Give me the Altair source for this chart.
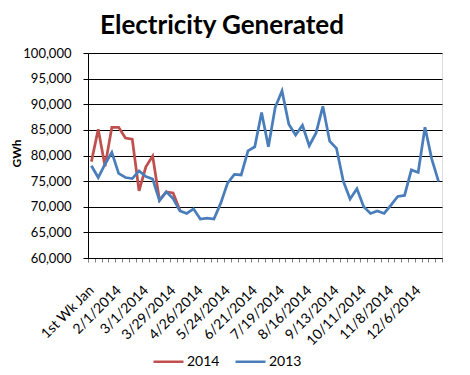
import altair as alt
import pandas as pd

weeks = ["1st Wk Jan", "1/11/2014", "1/18/2014", "1/25/2014", "2/1/2014", "2/8/2014",
         "2/15/2014", "2/22/2014", "3/1/2014", "3/8/2014", "3/15/2014", "3/22/2014",
         "3/29/2014", "4/5/2014", "4/12/2014", "4/19/2014", "4/26/2014", "5/3/2014",
         "5/10/2014", "5/17/2014", "5/24/2014", "5/31/2014", "6/7/2014", "6/14/2014",
         "6/21/2014", "6/28/2014", "7/5/2014", "7/12/2014", "7/19/2014", "7/26/2014",
         "8/2/2014", "8/9/2014", "8/16/2014", "8/23/2014", "8/30/2014", "9/6/2014",
         "9/13/2014", "9/20/2014", "9/27/2014", "10/4/2014", "10/11/2014", "10/18/2014",
         "10/25/2014", "11/1/2014", "11/8/2014", "11/15/2014", "11/22/2014", "11/29/2014",
         "12/6/2014", "12/13/2014", "12/20/2014", "12/27/2014"]

shown_labels = ["1st Wk Jan", "2/1/2014", "3/1/2014", "3/29/2014", "4/26/2014", "5/24/2014",
                "6/21/2014", "7/19/2014", "8/16/2014", "9/13/2014", "10/11/2014",
                "11/8/2014", "12/6/2014"]

gen_2013 = [78000, 75700, 78300, 80600, 76500, 75700, 75500, 77000, 75900, 75400,
            71200, 72900, 71600, 69200, 68700, 69600, 67600, 67800, 67600, 70700,
            74600, 76300, 76200, 80900, 81700, 88400, 81700, 89400, 92600, 86100,
            84000, 85900, 81900, 84400, 89600, 82800, 81400, 75000, 71500, 73500,
            70000, 68700, 69200, 68700, 70300, 72000, 72200, 77200, 76700, 85500,
            79300, 74900]

gen_2014 = [78800, 85100, 77900, 85500, 85500, 83400, 83200, 73100, 77800, 79900,
            71300, 72900, 72700, 69300]

series_order = ["2014", "2013"]
series_colors = ["#C0504D", "#4A7EBB"]
y_ticks = [60000, 65000, 70000, 75000, 80000, 85000, 90000, 95000, 100000]

df13 = pd.DataFrame({"week": weeks, "gwh": gen_2013, "series": "2013"})
df14 = pd.DataFrame({"week": weeks[:len(gen_2014)], "gwh": gen_2014, "series": "2014"})

FONT = "Lato"
label_list = "[" + ",".join("'" + s + "'" for s in shown_labels) + "]"

x_enc = alt.X(
    "week:N", sort=weeks, title=None, bandPosition=0.5,
    scale=alt.Scale(type="band", paddingInner=0, paddingOuter=0, domain=weeks),
    axis=alt.Axis(
        labelAngle=-45, labelAlign="right", labelBaseline="middle",
        labelExpr="indexof(" + label_list + ", datum.value) >= 0 ? datum.value : ''",
        labelOverlap=False, tickBand="extent", tickSize=4, tickColor="#808080",
        labelPadding=26, labelFont=FONT, labelFontSize=14, labelColor="#000000",
        domainColor="#000000", grid=False,
    ),
)
y_enc = alt.Y(
    "gwh:Q", title="GWh",
    scale=alt.Scale(domain=[60000, 100000], nice=False, zero=False),
    axis=alt.Axis(
        values=y_ticks, format=",.0f", grid=True, gridColor="#000000", gridWidth=1,
        tickSize=5, tickColor="#000000", domainColor="#000000",
        labelPadding=12, labelFont=FONT, labelFontSize=13, labelColor="#000000",
        titleFont=FONT, titleFontSize=12, titleFontWeight="bold", titleColor="#000000",
        titleX=-72, titleY=100, titleAlign="center", titleBaseline="middle",
    ),
)
color_enc = alt.Color(
    "series:N", title=None,
    scale=alt.Scale(domain=series_order, range=series_colors),
    legend=alt.Legend(
        orient="none", legendX=64, legendY=292, direction="horizontal",
        symbolType="stroke", symbolSize=900, symbolStrokeWidth=2.5,
        labelFont=FONT, labelFontSize=14, labelColor="#000000",
        columnPadding=10, labelOffset=2,
    ),
)

line14 = alt.Chart(df14).mark_line(strokeWidth=2.75).encode(x=x_enc, y=y_enc, color=color_enc)
line13 = alt.Chart(df13).mark_line(strokeWidth=2.75).encode(x=x_enc, y=y_enc, color=color_enc)

chart = alt.layer(line14, line13).properties(
    width=354, height=205,
    title=alt.TitleParams("Electricity Generated", font=FONT, fontSize=26,
                          fontWeight="bold", color="#000000", anchor="middle",
                          dx=-43, offset=8),
    autosize=alt.AutoSizeParams(type="none"),
    padding={"left": 80, "top": 45, "right": 20, "bottom": 117},
).configure_view(stroke=None).configure(background="#FFFFFF")

chart.save("out.html", embed_options={"renderer": "svg", "actions": False})
